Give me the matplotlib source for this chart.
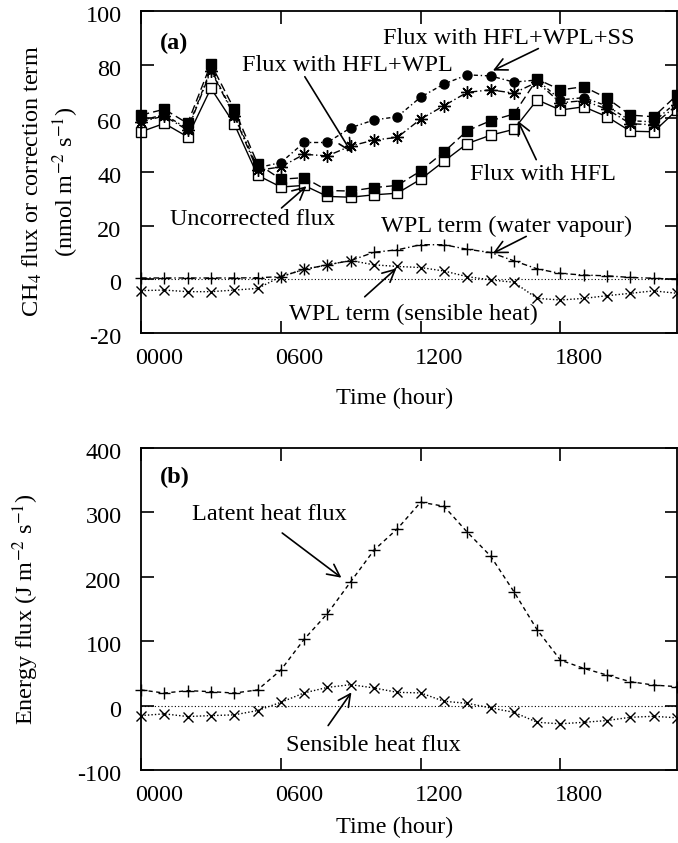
import numpy as np
import matplotlib.pyplot as plt
from matplotlib.transforms import ScaledTranslation

# hourly means, 0000 .. 2300
hours = np.arange(24)

# CH4 flux (nmol m-2 s-1)
uncorrected = [55.0, 58.1, 53.1, 71.2, 57.9, 38.8, 34.4, 35.0, 30.9, 30.6, 31.5, 32.1,
               37.3, 44.0, 50.6, 53.7, 55.9, 66.9, 63.1, 64.3, 60.6, 55.2, 55.0, 63.1]
hfl = [61.2, 63.4, 58.1, 80.3, 63.4, 43.1, 37.3, 37.9, 33.1, 32.9, 34.2, 35.0,
       40.4, 47.5, 55.4, 59.1, 61.6, 74.6, 70.6, 71.8, 67.5, 61.2, 60.6, 68.7]
hfl_wpl = [58.7, 60.9, 55.6, 77.8, 60.9, 40.6, 41.9, 46.6, 46.0, 49.7, 51.9, 52.9,
           59.7, 64.7, 69.7, 70.6, 69.4, 73.5, 65.8, 66.6, 63.4, 58.0, 57.6, 65.0]
hfl_wpl_ss = [59.2, 61.4, 56.1, 78.3, 61.4, 41.6, 43.5, 51.0, 51.0, 56.5, 59.4, 60.6,
              67.9, 72.8, 76.2, 75.8, 73.5, 74.3, 66.9, 67.7, 64.6, 59.1, 58.7, 66.2]

# WPL correction terms
wpl_water = [0.5, 0.5, 0.5, 0.5, 0.5, 0.6, 1.0, 3.7, 5.4, 7.0, 10.1, 11.0,
             12.9, 12.9, 11.2, 10.0, 6.9, 3.9, 2.2, 1.6, 1.3, 0.7, 0.4, 0.0]
wpl_heat = [-4.2, -4.0, -4.6, -4.6, -4.0, -3.4, 1.0, 3.7, 5.4, 7.0, 5.4, 4.8,
            4.4, 3.1, 1.0, -0.2, -1.1, -7.1, -7.7, -7.1, -6.1, -5.2, -4.3, -5.2]

# energy fluxes (J m-2 s-1)
latent = [24.3, 19.5, 23.2, 21.7, 19.5, 24.3, 55.2, 103.0, 142.9, 192.4, 241.5, 274.5,
          315.8, 309.6, 269.3, 232.2, 177.0, 117.6, 70.6, 57.8, 47.4, 37.1, 31.9, 29.4]
sensible = [-15.5, -12.8, -17.0, -15.5, -14.4, -7.7, 5.1, 19.7, 28.3, 32.5, 27.4, 20.6,
            19.7, 6.7, 3.6, -3.6, -10.4, -25.9, -28.3, -25.9, -23.2, -18.1, -16.6, -19.0]

time_ticks = [0, 6, 12, 18]
time_labels = ['0000', '0600', '1200', '1800']

plt.rcParams['font.family'] = ['Liberation Serif', 'DejaVu Serif']
plt.rcParams['mathtext.fontset'] = 'stix'
plt.rcParams['axes.unicode_minus'] = False
plt.rcParams['font.size'] = 17.5

fig = plt.figure(figsize=(6.78, 8.43), dpi=100)
W, H = 678.0, 843.0
ax1 = fig.add_axes([141 / W, 1 - 333 / H, 536 / W, 322 / H])
ax2 = fig.add_axes([141 / W, 1 - 770 / H, 536 / W, 322 / H])

arrow = dict(arrowstyle='->', lw=1.2, color='black', mutation_scale=22,
             shrinkA=0, shrinkB=0)


def style_axes(ax, xlabel_y):
    ax.set_xlim(0, 23)
    ax.set_xticks(time_ticks)
    ax.set_xticklabels(time_labels)
    ax.tick_params(direction='in', length=9, width=1.2, top=True, right=True,
                   labelsize=17.5)
    ax.tick_params(axis='y', pad=14)
    ax.tick_params(axis='x', pad=11)
    for sp in ax.spines.values():
        sp.set_linewidth(1.3)
    ax.set_xlabel('Time (hour)')
    ax.xaxis.set_label_coords(0.474, xlabel_y)
    ax.axhline(0, color='black', lw=0.8, ls=(0, (1, 2)), zorder=1)
    # time labels sit a little to the right of their ticks
    shift_x = ScaledTranslation(0.18, 0, fig.dpi_scale_trans)
    for lab in ax.get_xticklabels():
        lab.set_transform(lab.get_transform() + shift_x)
    shift_y = ScaledTranslation(0, -0.03, fig.dpi_scale_trans)
    for lab in ax.get_yticklabels():
        lab.set_transform(lab.get_transform() + shift_y)


kw = dict(color='black', lw=1.0, clip_on=False)

# (a) CH4 flux and correction terms
ax1.plot(hours, uncorrected, ls='-', marker='s', mfc='white', mec='black', ms=7, mew=1.0, **kw)
ax1.plot(hours, hfl, ls=(0, (6, 3)), marker='s', mfc='black', ms=7, **kw)
ax1.plot(hours, hfl_wpl, ls=(0, (5, 2, 1, 2)), marker=(8, 2, 0), ms=9, mew=1.0, **kw)
ax1.plot(hours, hfl_wpl_ss, ls=(0, (3, 2, 1, 2)), marker='o', mfc='black', ms=6.5, **kw)
ax1.plot(hours, wpl_water, ls=(0, (4, 2, 1, 2)), marker='+', ms=9, mew=1.0, **kw)
ax1.plot(hours, wpl_heat, ls=(0, (1, 1.5)), marker='x', ms=7.5, mew=1.0, **kw)

ax1.set_ylim(-20, 100)
ax1.set_yticks(np.arange(-20, 101, 20))
style_axes(ax1, -0.17)
ax1.set_ylabel('CH$_4$ flux or correction term\n(nmol m$^{-2}$ s$^{-1}$)',
               linespacing=1.25, va='center', ha='center')
ax1.yaxis.set_label_coords(-0.168, 0.47)
ax1.text(0.035, 0.90, '(a)', transform=ax1.transAxes, fontweight='bold',
         ha='left', va='center')

ax1.text(15.8, 89.8, 'Flux with HFL+WPL+SS', ha='center', va='center')
ax1.annotate('', xy=(15.1, 77.8), xytext=(17.05, 86.0), arrowprops=arrow)
ax1.text(8.87, 79.7, 'Flux with HFL+WPL', ha='center', va='center')
ax1.annotate('', xy=(9.04, 47.2), xytext=(7.03, 75.5), arrowprops=arrow)
ax1.text(17.27, 39.2, 'Flux with HFL', ha='center', va='center')
ax1.annotate('', xy=(16.17, 59.1), xytext=(16.96, 44.6), arrowprops=arrow)
ax1.text(4.8, 22.4, 'Uncorrected flux', ha='center', va='center')
ax1.annotate('', xy=(7.1, 34.7), xytext=(6.03, 26.6), arrowprops=arrow)
ax1.text(15.7, 19.7, 'WPL term (water vapour)', ha='center', va='center')
ax1.annotate('', xy=(15.1, 9.7), xytext=(16.53, 16.0), arrowprops=arrow)
ax1.text(11.7, -13.2, 'WPL term (sensible heat)', ha='center', va='center')
ax1.annotate('', xy=(10.96, 4.1), xytext=(9.6, -6.5), arrowprops=arrow)

# (b) latent and sensible heat flux
ax2.plot(hours, latent, ls=(0, (3, 2.5)), marker='+', ms=9, mew=1.0, **kw)
ax2.plot(hours, sensible, ls=(0, (1, 1.5)), marker='x', ms=7.5, mew=1.0, **kw)

ax2.set_ylim(-100, 400)
ax2.set_yticks(np.arange(-100, 401, 100))
style_axes(ax2, -0.145)
ax2.set_ylabel('Energy flux (J m$^{-2}$ s$^{-1}$)', va='center', ha='center')
ax2.yaxis.set_label_coords(-0.216, 0.5)
ax2.text(0.035, 0.91, '(b)', transform=ax2.transAxes, fontweight='bold',
         ha='left', va='center')

ax2.text(5.49, 297, 'Latent heat flux', ha='center', va='center')
ax2.annotate('', xy=(8.6, 198.6), xytext=(6.06, 268), arrowprops=arrow)
ax2.text(9.99, -62, 'Sensible heat flux', ha='center', va='center')
ax2.annotate('', xy=(9.03, 20.6), xytext=(8.03, -31), arrowprops=arrow)

fig.savefig('out.png', dpi=100)
